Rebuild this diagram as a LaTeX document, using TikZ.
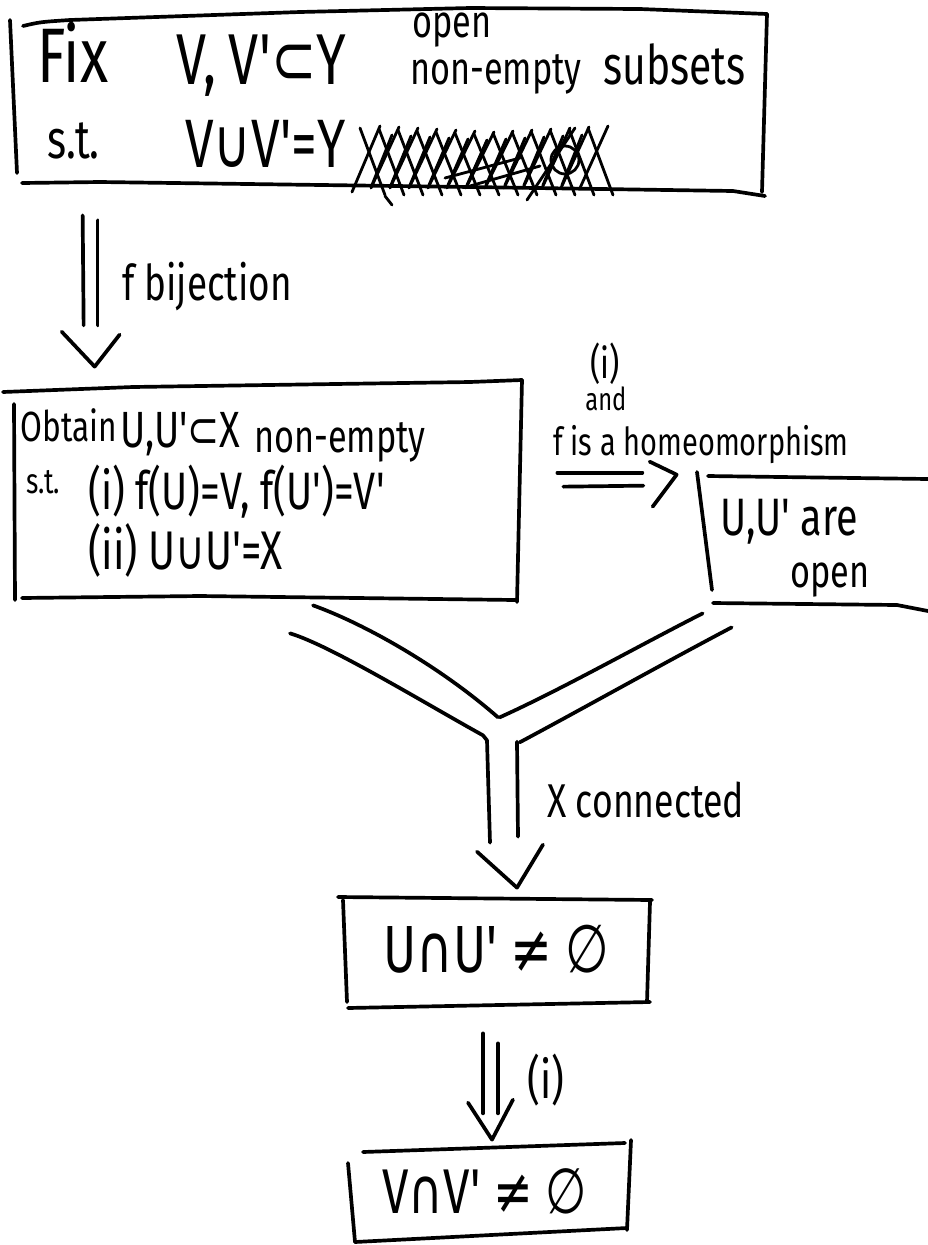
\documentclass[tikz,border=0pt]{standalone}
\usepackage{fontspec}
\usetikzlibrary{calc,fit}
\newfontfamily\hand[FakeStretch=0.75]{Fira Sans}
\newfontfamily\symf[FakeStretch=0.75]{DejaVu Sans}
\newcommand\fs[1]{\fontsize{#1}{#1}\selectfont}
\newcommand\sy[1]{{\symf #1}}
\tikzset{
  pen/.style={line width=2.1pt, line cap=round, line join=round},
  thinpen/.style={line width=1.6pt, line cap=round, line join=round},
  txt/.style={inner sep=0pt, anchor=base west},
  frame/.style={inner sep=0pt, draw=none},
}
\begin{document}
\begin{tikzpicture}[x=0.02cm, y=-0.02cm]
\useasboundingbox (0,0) rectangle (928,1245);
\fill[white] (0,0) rectangle (928,1245);

% ---------- box regions ----------
\node[frame, fit={(12,12) (765,192)}] (topbox) {};
\node[frame, fit={(10,380) (522,602)}] (obtainbox) {};
\node[frame, fit={(697,472) (928,608)}] (openbox) {};
\node[frame, fit={(338,897) (652,1008)}] (capbox) {};
\node[frame, fit={(348,1140) (631,1243)}] (vbox) {};

% ---------- top box ----------
\draw[pen] (10,20) -- (17,173);
\draw[pen] (23,26) .. controls (40,22) .. (70,20) -- (300,12) -- (470,8) -- (640,9) -- (767,14);
\draw[pen] (767,14) -- (762,192);
\draw[pen] (22,183) -- (100,182) -- (470,187) -- (733,191) -- (765,196);

\node[txt, font=\hand\fs{44}] (fix) at (37,82) {Fix};
\node[txt, font=\hand\fs{41}] (vsub) at (176,84) {V,\,V'\sy{⊂}Y};
\node[txt, font=\hand\fs{26}] (openA) at (412,37) {open};
\node[txt, font=\hand\fs{26}] (nonemptyA) at (410,84) {non-empty};
\node[txt, font=\hand\fs{31}] (subsets) at (603,84) {subsets};
\node[txt, font=\hand\fs{31}] (stA) at (47,158) {s.t.};
\node[txt, font=\hand\fs{39}] (vunion) at (185,167) {V\sy{∪}V'=Y};

% crossed-out text after the equation
\foreach \i in {0,...,12} {
  \draw[thinpen] ({352+19*\i},{192-(\i==0?0:4)}) -- ({380+19*\i},{132-abs(6-\i)});
  \draw[thinpen] ({360+19*\i},{134-abs(6-\i)}) -- ({385+19*\i},{195});
}
\foreach \i in {0,...,10} {
  \draw[thinpen] ({372+19*\i},{185}) -- ({392+19*\i},{140-abs(5-\i)});
}
\draw[thinpen] (445,178) -- (520,158);
\draw[thinpen] (470,186) -- (540,166);
\draw[thinpen] (565,160) circle (14);
\draw[thinpen] (527,200) -- (575,128);
\draw[thinpen] (385,196) -- (392,205);

% ---------- arrow: f bijection ----------
\draw[pen] ($(topbox.south west)+(71,23)$) -- ($(topbox.south west)+(72,133)$);
\draw[pen] ($(topbox.south west)+(86,28)$) -- ($(topbox.south west)+(86,133)$);
\draw[pen] ($(obtainbox.north west)+(52,-48)$) -- ($(obtainbox.north west)+(85,-13)$) -- ($(obtainbox.north west)+(110,-45)$);
\node[txt, font=\hand\fs{28}] (fbij) at (122,300) {f bijection};

% ---------- middle box ----------
\draw[pen] (3,392) -- (133,387) -- (470,382) -- (522,380);
\draw[pen] (14,404) -- (15,600);
\draw[pen] (522,380) -- (517,602);
\draw[pen] (22,598) -- (200,596) -- (515,600);

\node[txt, font=\hand\fs{24}] (obtain) at (20,441) {Obtain};
\node[txt, font=\hand\fs{29}] (usub) at (120,447) {U,U'\sy{⊂}X};
\node[txt, font=\hand\fs{26}] (nonemptyB) at (254,452) {non-empty};
\node[txt, font=\hand\fs{20}] (stB) at (26,493) {s.t.};
\node[txt, font=\hand\fs{30}] (condi) at (88,509) {(i) f(U)=V, f(U')=V'};
\node[txt, font=\hand\fs{31}] (condii) at (88,569) {(ii) U\sy{∪}U'=X};

% ---------- arrow: homeomorphism ----------
\draw[pen] ($(obtainbox.north east)+(35,93)$) -- ($(obtainbox.north east)+(120,93)$);
\draw[pen] ($(obtainbox.north east)+(41,107)$) -- ($(obtainbox.north east)+(121,106)$);
\draw[pen] ($(openbox.north west)+(-47,-10)$) -- ($(openbox.north west)+(-20,3)$) -- ($(openbox.north west)+(-44,35)$);
\node[txt, font=\hand\fs{24}] (labi) at (590,378) {(i)};
\node[txt, font=\hand\fs{18}] (laband) at (585,410) {and};
\node[txt, font=\hand\fs{22}] (labhomeo) at (553,455) {f is a homeomorphism};

% ---------- right box ----------
\draw[pen] (697,472) -- (712,590);
\draw[pen] (708,476) -- (928,479);
\draw[pen] (713,603) -- (897,605) -- (928,611);
\node[txt, font=\hand\fs{30}] (uopen1) at (720,535) {U,U' are};
\node[txt, font=\hand\fs{26}] (uopen2) at (790,587) {open};

% ---------- merging arrow: X connected ----------
\draw[pen] ($(obtainbox.south)+(47,3)$) .. controls ($(obtainbox.south)+(100,22)$) and ($(obtainbox.south)+(175,65)$) .. ($(obtainbox.south)+(232,115)$);
\draw[pen] ($(obtainbox.south)+(24,31)$) .. controls ($(obtainbox.south)+(64,43)$) and ($(obtainbox.south)+(154,98)$) .. ($(obtainbox.south)+(217,133)$)
  -- ($(obtainbox.south)+(221,138)$) -- ($(capbox.north)+(-5,-54)$);
\draw[pen] ($(openbox.south west)+(6,5)$) .. controls ($(openbox.south west)+(-57,37)$) and ($(openbox.south west)+(-137,82)$) .. ($(openbox.south west)+(-197,109)$);
\draw[pen] ($(openbox.south west)+(35,19)$) .. controls ($(openbox.south west)+(-37,57)$) and ($(openbox.south west)+(-117,102)$) .. ($(openbox.south west)+(-177,134)$);
\draw[pen] ($(capbox.north)+(22,-155)$) -- ($(capbox.north)+(23,-60)$);
\draw[pen] ($(capbox.north)+(-18,-45)$) -- ($(capbox.north)+(22,-9)$) -- ($(capbox.north)+(48,-52)$);
\node[txt, font=\hand\fs{27}] (xconn) at (547,817) {X connected};

% ---------- box: U cap U' ----------
\draw[pen] (338,897) -- (652,900);
\draw[pen] (343,900) -- (347,1002);
\draw[pen] (650,902) -- (647,1002);
\draw[pen] (348,1008) -- (650,1002);
\node[txt, font=\hand\fs{38}] (ucap) at (383,972) {U\sy{∩}U' \sy{≠} \sy{∅}};

% ---------- arrow (i) ----------
\draw[pen] ($(capbox.south)+(-12,25)$) -- ($(capbox.south)+(-12,105)$);
\draw[pen] ($(capbox.south)+(3,35)$) -- ($(capbox.south)+(3,105)$);
\draw[pen] ($(vbox.north)+(-21.5,-37)$) -- ($(vbox.north)+(2.5,0)$) -- ($(vbox.north)+(23.5,-40)$);
\node[txt, font=\hand\fs{30}] (labi2) at (527,1098) {(i)};

% ---------- box: V cap V' ----------
\draw[pen] (363,1152) -- (625,1143);
\draw[pen] (631,1140) -- (627,1230);
\draw[pen] (348,1163) -- (355,1242);
\draw[pen] (355,1242) -- (627,1228);
\node[txt, font=\hand\fs{36}] (vcap) at (382,1213) {V\sy{∩}V' \sy{≠} \sy{∅}};
\end{tikzpicture}
\end{document}
